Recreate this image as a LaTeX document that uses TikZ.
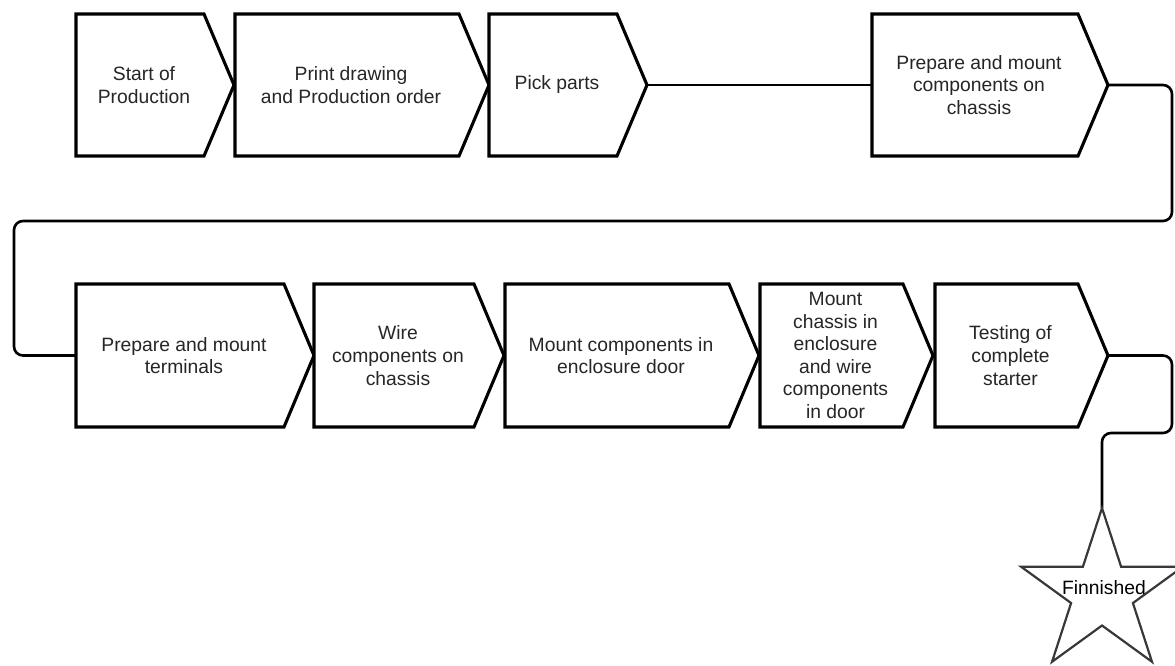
\documentclass[tikz,border=0pt]{standalone}
\usepackage{fontspec}
\setmainfont{Liberation Sans}
\definecolor{textgray}{RGB}{38,38,38}
\definecolor{stargray}{RGB}{56,56,56}
\begin{document}
\begin{tikzpicture}[x=1pt,y=-1pt,
  boxline/.style={draw=black,line width=3.1pt,line join=miter,fill=white},
  flowline/.style={draw=black,line width=2.6pt,rounded corners=9pt},
  steptext/.style={align=center,inner sep=0pt,text=textgray,
    font=\fontsize{19.3}{22.6}\selectfont}]
\useasboundingbox (0,0) rectangle (1175,665);

% process step: name, left x, tip x, top y, bottom y, text
\newcommand{\procstep}[6]{%
  \draw[boxline] (#2,#4) -- ({#3-30},#4) -- (#3,{(#4+#5)/2})
     -- ({#3-30},#5) -- (#2,#5) -- cycle;
  \coordinate (#1-in) at (#2,{(#4+#5)/2});
  \coordinate (#1-out) at (#3,{(#4+#5)/2});
  \node[steptext] (#1) at ({(#2+#3-30)/2+4},{(#4+#5)/2}) {#6};
}

% bend points of the long connectors
\coordinate (r1) at (1172,85);
\coordinate (r2) at (1172,221);
\coordinate (l1) at (14,221);
\coordinate (l2) at (14,355.5);
\coordinate (e1) at (1172,355.5);
\coordinate (e2) at (1172,433);
\coordinate (e3) at (1102,433);
\coordinate (fin-top) at (1102,508);

% first row
\procstep{s1}{76}{234}{14}{156}{Start of\\Production}
\procstep{s2}{235}{489}{14}{156}{Print drawing\\and Production order}
\procstep{s3}{489}{647}{14}{156}{Pick parts}
\procstep{s4}{872}{1108}{14}{156}{Prepare and mount\\components on\\chassis}

% second row
\procstep{s5}{76}{314}{284}{427}{Prepare and mount\\terminals}
\procstep{s6}{314}{504}{284}{427}{Wire\\components on\\chassis}
\procstep{s7}{505}{759}{284}{427}{Mount components in\\enclosure door}
\procstep{s8}{760}{933}{284}{427}{Mount\\chassis in\\enclosure\\and wire\\components\\in door}
\procstep{s9}{935}{1108}{284}{427}{Testing of\\complete\\starter}

\draw[flowline] (s3-out) -- (s4-in);
\draw[flowline] (s4-out) -- (r1) -- (r2) -- (l1) -- (l2) -- (s5-in);
\draw[flowline] (s9-out) -- (e1) -- (e2) -- (e3) -- (fin-top);

% finishing star
\draw[draw=stargray,line width=2.2pt,line join=miter,fill=white]
  (fin-top)
  \foreach \k in {1,...,9}{
    -- ({1102+(mod(\k,2)==0 ? 85 : 32.5)*cos(90+36*\k)},
        {593-(mod(\k,2)==0 ? 85 : 32.5)*sin(90+36*\k)})
  } -- cycle;
\node[inner sep=0pt,text=black,font=\fontsize{19.3}{22.6}\selectfont] (fin) at (1104,588) {Finnished};
\end{tikzpicture}
\end{document}
